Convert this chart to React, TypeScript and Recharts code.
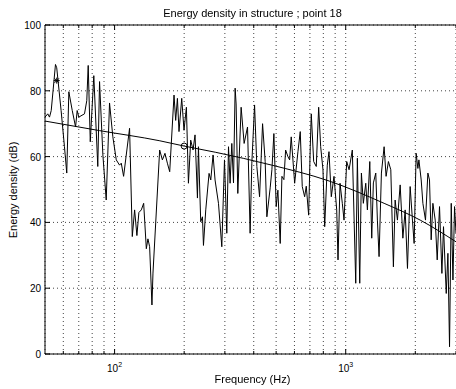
import { ComposedChart, Line, Scatter, XAxis, YAxis, CartesianGrid } from "recharts";

// frequency axis (log) ticks and dB ticks
const freqTicks = [60, 70, 80, 90, 100, 200, 300, 400, 500, 600, 700, 800, 900, 1000, 2000, 3000];
const majorFreqs = [100, 1000];
const dbTicks = [0, 20, 40, 60, 80, 100];

// measured energy density, point 18
const responseFreq = [
    50, 51.4, 52.3, 53.2, 55.5, 56.2, 58.7, 60.7, 62.1, 63.4,
    65.6, 67.8, 68.9, 70, 74.1, 75.8, 76.9, 78.5, 81.3, 84.6,
    86.1, 89, 92, 95.1, 98.3, 101.7, 105.1, 106.9, 109.4, 116.1,
    119.3, 122.1, 124.9, 127.4, 130.5, 133.6, 137.2, 139.4, 141.8, 145.1,
    146.6, 156.7, 161, 165.2, 169.2, 173.2, 180.8, 183.8, 187, 190,
    195.2, 199.7, 204.5, 208.7, 213.5, 218.5, 222.9, 228.3, 230.6, 235.9,
    240, 242.4, 248, 256.3, 260.7, 266.7, 272.1, 281.5, 291, 298.9,
    305.8, 311.1, 316.1, 321.5, 327, 332.3, 335.6, 341.3, 352.8, 363.5,
    376, 385.9, 392.5, 403.3, 412.6, 423.9, 436.8, 448.3, 455.9, 471.2,
    479.3, 488.9, 500.3, 508.8, 520.7, 529.6, 540.2, 549.5, 562.2, 571.9,
    581.1, 601.2, 621.3, 635.7, 648.6, 664.2, 675, 691.3, 702.4, 709.5,
    726.7, 745.8, 763.8, 779.3, 797.3, 811, 832.3, 846.5, 866.2, 889.8,
    914.2, 926.1, 944.8, 966.7, 983.2, 1010, 1034, 1068, 1105, 1123,
    1150, 1169, 1192, 1221, 1241, 1271, 1296, 1317, 1349, 1371,
    1394, 1427, 1466, 1495, 1530, 1567, 1608, 1636, 1674, 1720,
    1767, 1808, 1850, 1900, 1944, 1977, 2017, 2052, 2073, 2121,
    2157, 2214, 2267, 2304, 2343, 2383, 2439, 2488, 2546, 2607,
    2649, 2722, 2768, 2813, 2861, 2910, 2957, 3000,
];
const responseDb = [
    72, 73, 72, 74, 88, 87, 74, 63, 55, 79.7,
    74, 69, 74, 72, 73, 77, 87.7, 64.5, 84.6, 57,
    82.8, 60.5, 46.8, 76.3, 66, 59, 57.4, 58, 54, 68.6,
    35.7, 43.8, 36, 43, 43.8, 45.8, 32, 35, 32.6, 14.9,
    24.6, 62, 59, 61, 58, 55.4, 78.7, 71, 77.7, 67.6,
    77.7, 68, 75, 51.9, 65, 62, 66.6, 47.4, 63, 40.2,
    41.7, 33, 43.8, 54.9, 52.9, 60.5, 52.9, 45.8, 32.6, 59,
    36.7, 63, 51.9, 64, 52, 80.8, 76, 48.8, 75, 64,
    69, 36.7, 58, 75.7, 57, 47.8, 70, 58.5, 41.7, 50.5,
    56, 67, 44.8, 49.8, 33.6, 54, 53, 62, 60, 59,
    66, 51.9, 61.5, 67.6, 50.9, 47.8, 51, 42.2, 63, 73,
    58.5, 57, 75, 63, 56, 38.7, 57.4, 61.5, 47.8, 54,
    43.8, 28.6, 51.9, 45.8, 40.7, 58.5, 56, 62, 21.5, 59.5,
    21.5, 55, 45.8, 51.9, 43.8, 58.5, 35.2, 52, 55, 40.7,
    29.6, 55, 63, 54, 58.5, 56, 26.5, 46.8, 40.7, 51.4,
    35.2, 43.8, 26, 50.9, 40.7, 33.6, 61, 56.4, 59, 52.9,
    45.8, 40.7, 55, 52.9, 34.7, 45.8, 40.7, 28.6, 44.8, 24.5,
    38.7, 18.4, 30.6, 2.2, 45.8, 22.5, 44.8, 36.7,
];

// smooth fitted trend
const trendFreq = [50, 86, 157, 200, 274, 479, 838, 1466, 2100, 3000];
const trendDb = [70.8, 67.9, 64.8, 63.2, 61.3, 57.4, 52.7, 45.8, 40.7, 34.1];

// markers
const starFreq = [56.2];
const starDb = [83.1];
const circleFreq = [200];
const circleDb = [63.2];

const response = responseFreq.map((f, i) => ({ f, db: responseDb[i] }));
const trend = trendFreq.map((f, i) => ({ f, db: trendDb[i] }));
const stars = starFreq.map((f, i) => ({ f, db: starDb[i] }));
const circles = circleFreq.map((f, i) => ({ f, db: circleDb[i] }));

const FONT = "Arial, 'Liberation Sans', Helvetica, sans-serif";

const BottomTick = ({ x, y, payload }: any) => {
    const v = payload.value;
    const major = majorFreqs.includes(v);
    return (
        <g>
            <line x1={x} y1={y} x2={x} y2={y - (major ? 5 : 3)} stroke="#000" />
            {major && (
                <text x={x} y={y + 18} textAnchor="middle" fontSize={10} fontFamily={FONT} fill="#000">
                    10<tspan dy={-5} fontSize={7}>{Math.round(Math.log10(v))}</tspan>
                </text>
            )}
        </g>
    );
};

const TopTick = ({ x, y, payload }: any) => {
    const major = majorFreqs.includes(payload.value);
    return <line x1={x} y1={y} x2={x} y2={y + (major ? 5 : 3)} stroke="#000" />;
};

const LeftTick = ({ x, y, payload }: any) => (
    <g>
        <line x1={x} y1={y} x2={x + 5} y2={y} stroke="#000" />
        <text x={x - 4} y={y + 4} textAnchor="end" fontSize={10} fontFamily={FONT} fill="#000">
            {payload.value}
        </text>
    </g>
);

const StarShape = ({ cx, cy }: any) => (
    <g stroke="#000" strokeWidth={1}>
        <line x1={cx - 3} y1={cy} x2={cx + 3} y2={cy} />
        <line x1={cx} y1={cy - 3} x2={cx} y2={cy + 3} />
        <line x1={cx - 2.2} y1={cy - 2.2} x2={cx + 2.2} y2={cy + 2.2} />
        <line x1={cx - 2.2} y1={cy + 2.2} x2={cx + 2.2} y2={cy - 2.2} />
    </g>
);

const CircleShape = ({ cx, cy }: any) => <circle cx={cx} cy={cy} r={3} fill="none" stroke="#000" />;

export default function App() {
    return (
        <div style={{ position: "fixed", left: 0, top: 0, width: 456, height: 389, background: "#fff", fontFamily: FONT }}>
            <ComposedChart width={456} height={389} margin={{ top: 0, right: 0, bottom: 0, left: 0 }}>
                <CartesianGrid stroke="#444" strokeDasharray="1 3" />
                <XAxis
                    dataKey="f"
                    type="number"
                    scale="log"
                    domain={[50, 3000]}
                    allowDataOverflow
                    ticks={freqTicks}
                    interval={0}
                    height={35}
                    tickSize={0}
                    tickMargin={0}
                    tickLine={false}
                    axisLine={{ stroke: "#000" }}
                    tick={<BottomTick />}
                />
                <XAxis
                    xAxisId="top"
                    orientation="top"
                    dataKey="f"
                    type="number"
                    scale="log"
                    domain={[50, 3000]}
                    allowDataOverflow
                    ticks={freqTicks}
                    interval={0}
                    height={25}
                    tickSize={0}
                    tickMargin={0}
                    tickLine={false}
                    axisLine={{ stroke: "#000" }}
                    tick={<TopTick />}
                />
                <YAxis
                    type="number"
                    domain={[0, 100]}
                    ticks={dbTicks}
                    interval={0}
                    width={45}
                    tickSize={0}
                    tickMargin={0}
                    tickLine={false}
                    axisLine={{ stroke: "#000" }}
                    tick={<LeftTick />}
                />
                <Line data={response} dataKey="db" type="linear" stroke="#000" strokeWidth={1} dot={false} isAnimationActive={false} />
                <Line data={trend} dataKey="db" type="monotone" stroke="#000" strokeWidth={1} dot={false} isAnimationActive={false} />
                <Scatter data={stars} dataKey="db" shape={<StarShape />} isAnimationActive={false} />
                <Scatter data={circles} dataKey="db" shape={<CircleShape />} isAnimationActive={false} />
            </ComposedChart>
            <div style={{ position: "absolute", left: 47, width: 411, top: 7, textAlign: "center", fontSize: 11, lineHeight: "13px" }}>
                Energy density in structure ; point 18
            </div>
            <div style={{ position: "absolute", left: 47, width: 411, top: 373, textAlign: "center", fontSize: 11, lineHeight: "13px" }}>
                Frequency (Hz)
            </div>
            <div
                style={{
                    position: "absolute",
                    left: 13,
                    top: 190,
                    transform: "translate(-50%, -50%) rotate(-90deg)",
                    whiteSpace: "nowrap",
                    fontSize: 11,
                    lineHeight: "13px",
                }}
            >
                Energy density (dB)
            </div>
        </div>
    );
}
